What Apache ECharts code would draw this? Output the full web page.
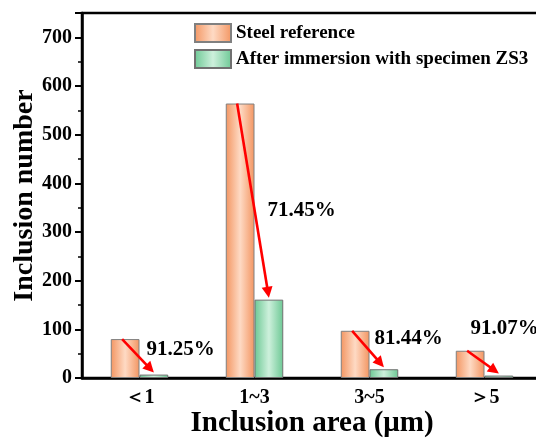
<!DOCTYPE html>
<html>
<head>
<meta charset="utf-8">
<script src="https://cdn.jsdelivr.net/npm/echarts@6/dist/echarts.min.js"></script>
<style>
  html, body { margin: 0; padding: 0; background: #fff; }
  #main { width: 536px; height: 439px; }
</style>
</head>
<body>
<div id="main"></div>
<script>
// inclusion counts per area class
let categories = ['＜1', '1~3', '3~5', '＞5'];
let steelRef = [80, 564, 97, 56];
let afterZS3 = [7, 161, 18, 5];
let yTicks = [0, 100, 200, 300, 400, 500, 600, 700];

// where each percent label sits, relative to category centre / steel bar top (px)
let labelShift = [[7, 11], [13, 107], [5, 8], [-14, -22]];

const FONT = '"Times New Roman", "Liberation Serif", serif';

function hGradient(edge, mid){
    return new echarts.graphic.LinearGradient(0, 0, 1, 0, [
        {offset: 0, color: edge},
        {offset: 0.5, color: mid},
        {offset: 1, color: edge}
    ]);
}

let arrowData = [];
for (let i = 0; i < categories.length; i++){
    let pct = ((1 - afterZS3[i] / steelRef[i]) * 100).toFixed(2) + '%';
    arrowData.push([i, steelRef[i], afterZS3[i], pct]);
}

function renderArrow(params, api){
    let i = api.value(0);
    let band = api.size([1, 0])[0];
    let barW = band * 0.25;
    let top1 = api.coord([i, api.value(1)]);
    let top2 = api.coord([i, api.value(2)]);
    let x1 = top1[0] - barW / 2 - 3, y1 = top1[1];
    let x2 = top2[0] + barW / 2, y2 = top2[1] - 2;
    let dx = x2 - x1, dy = y2 - y1;
    let len = Math.sqrt(dx * dx + dy * dy);
    let ux = dx / len, uy = dy / len;
    let head = 11, half = 5.5;
    let bx = x2 - ux * head, by = y2 - uy * head;
    let shift = labelShift[i];
    return {
        type: 'group',
        children: [
            {
                type: 'line',
                shape: {x1: x1, y1: y1, x2: bx + ux * 2, y2: by + uy * 2},
                style: {stroke: '#ff0000', lineWidth: 2.6}
            },
            {
                type: 'polygon',
                shape: {points: [[x2, y2], [bx - uy * half, by + ux * half], [bx + uy * half, by - ux * half]]},
                style: {fill: '#ff0000'}
            },
            {
                type: 'text',
                x: top1[0] + shift[0],
                y: top1[1] + shift[1],
                style: {
                    text: api.value(3),
                    fill: '#000',
                    font: 'bold 21px ' + FONT,
                    verticalAlign: 'middle',
                    align: 'left'
                }
            }
        ]
    };
}

let option = {
    animation: false,
    backgroundColor: '#fff',
    textStyle: {fontFamily: FONT},
    grid: {
        left: 82, right: -6, top: 13, bottom: 61,
        outerBoundsMode: 'none',
        containLabel: false,
        show: true, borderColor: '#000', borderWidth: 2.5
    },
    legend: {
        data: ['Steel reference', 'After immersion with specimen ZS3'],
        orient: 'vertical',
        left: 194,
        top: 23,
        padding: 0,
        icon: 'rect',
        itemWidth: 36,
        itemHeight: 18,
        itemGap: 6,
        textStyle: {fontFamily: FONT, fontWeight: 'bold', fontSize: 19, color: '#000'}
    },
    xAxis: {
        type: 'category',
        data: categories,
        name: 'Inclusion area (μm)',
        nameLocation: 'middle',
        nameGap: 31,
        nameMoveOverlap: false,
        nameTextStyle: {fontFamily: FONT, fontWeight: 'bold', fontSize: 29, color: '#000'},
        axisLine: {lineStyle: {color: '#000', width: 2.5}},
        axisTick: {alignWithLabel: true, length: 6, lineStyle: {color: '#000', width: 2}},
        axisLabel: {fontFamily: FONT, fontWeight: 'bold', fontSize: 20, color: '#000', margin: 10}
    },
    yAxis: {
        type: 'value',
        min: 0,
        max: 750,
        interval: 100,
        name: 'Inclusion number',
        nameLocation: 'middle',
        nameGap: 43,
        nameMoveOverlap: false,
        nameTextStyle: {fontFamily: FONT, fontWeight: 'bold', fontSize: 28, color: '#000'},
        axisLine: {show: true, lineStyle: {color: '#000', width: 2.5}},
        axisTick: {show: true, length: 7, lineStyle: {color: '#000', width: 2}},
        minorTick: {show: true, splitNumber: 2, length: 4, lineStyle: {color: '#000', width: 1.5}},
        splitLine: {show: false},
        axisLabel: {
            fontFamily: FONT, fontWeight: 'bold', fontSize: 20, color: '#000', margin: 10,
            showMaxLabel: false,
            formatter: function(v){ return yTicks.indexOf(v) >= 0 ? String(v) : ''; }
        }
    },
    series: [
        {
            name: 'Steel reference',
            type: 'bar',
            data: steelRef,
            barWidth: '25%',
            barGap: '0%',
            itemStyle: {color: hGradient('#f39561', '#fedac4'), borderColor: '#808080', borderWidth: 1}
        },
        {
            name: 'After immersion with specimen ZS3',
            type: 'bar',
            data: afterZS3,
            barWidth: '25%',
            barGap: '0%',
            itemStyle: {color: hGradient('#6cc894', '#cdf0dc'), borderColor: '#707070', borderWidth: 1}
        },
        {
            name: 'reduction',
            type: 'custom',
            data: arrowData,
            encode: {x: 0, y: 1},
            renderItem: renderArrow,
            z: 10,
            silent: true
        }
    ]
};

let chart = echarts.init(document.getElementById('main'));
chart.setOption(option);
</script>
</body>
</html>
